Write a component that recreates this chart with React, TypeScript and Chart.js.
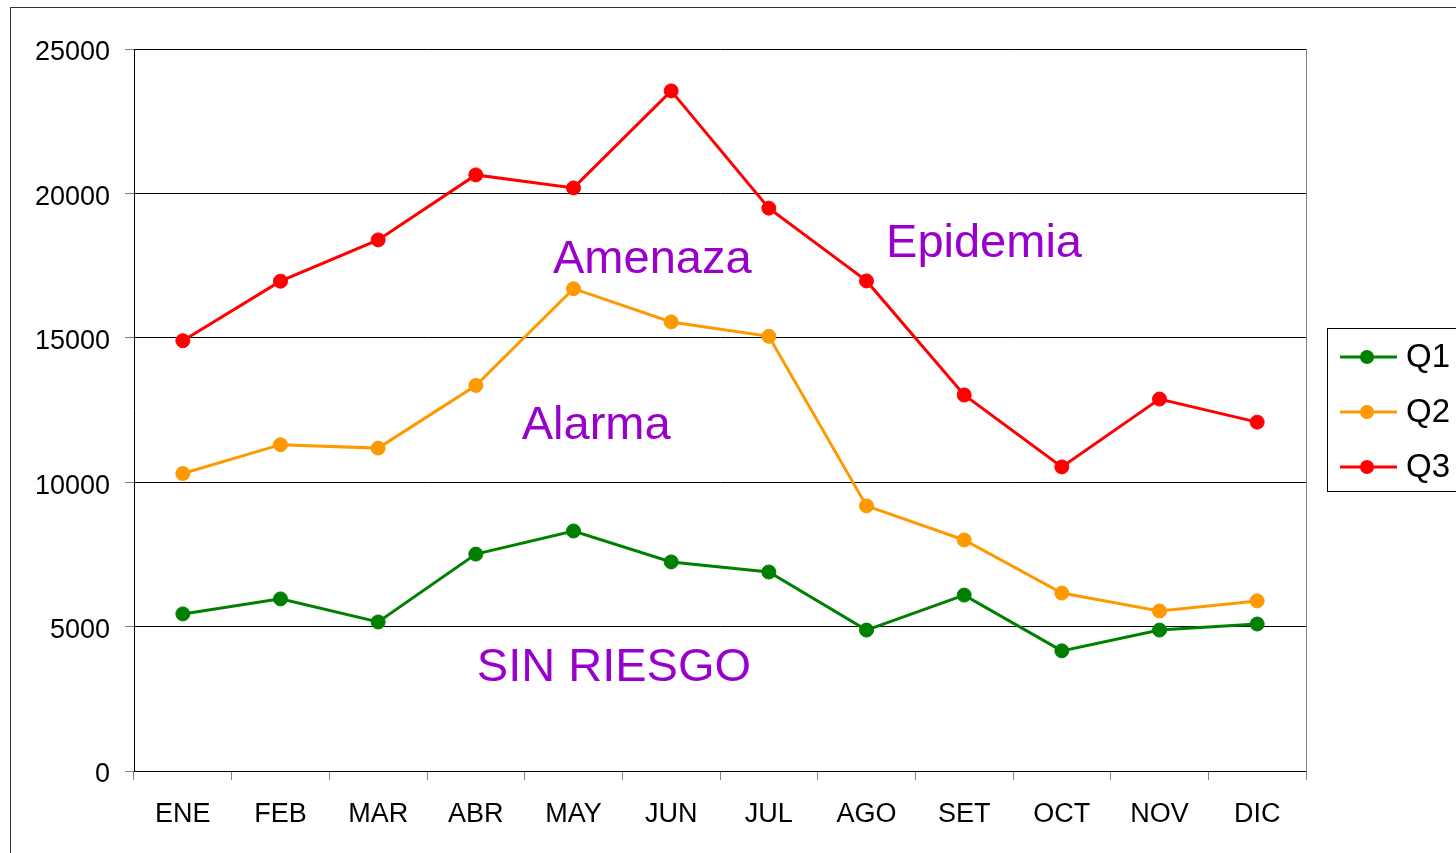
import React, { useEffect, useRef } from "react";
import { Chart, registerables } from "chart.js";

Chart.register(...registerables);

const months = ["ENE", "FEB", "MAR", "ABR", "MAY", "JUN", "JUL", "AGO", "SET", "OCT", "NOV", "DIC"];
const q1 = [5440, 5960, 5160, 7510, 8310, 7240, 6890, 4880, 6090, 4160, 4880, 5090];
const q2 = [10300, 11300, 11180, 13350, 16700, 15550, 15050, 9180, 8000, 6160, 5540, 5890];
const q3 = [14900, 16960, 18390, 20640, 20190, 23550, 19490, 16970, 13020, 10530, 12880, 12080];
const seriesNames = ["Q1", "Q2", "Q3"];
const seriesColors = ["#008000", "#FF9900", "#FF0000"];
const yTicks = [0, 5000, 10000, 15000, 20000, 25000];

// zone labels: [text, category position (index), value at baseline]
const zoneText = ["Amenaza", "Epidemia", "Alarma", "SIN RIESGO"];
const zoneX = [3.79, 7.2, 3.47, 3.01];
const zoneY = [17240, 17800, 11500, 3110];

const FONT = "'Liberation Sans', Arial, sans-serif";

export default function App() {
  const ref = useRef<HTMLCanvasElement | null>(null);

  useEffect(() => {
    if (!ref.current) return;
    const framePlugin = {
      id: "frame",
      beforeDraw(chart: any) {
        const c = chart.ctx;
        c.save();
        c.fillStyle = "#ffffff";
        c.fillRect(0, 0, chart.width, chart.height);
        c.strokeStyle = "#333333";
        c.lineWidth = 1;
        c.strokeRect(10.5, 7.5, chart.width + 20, chart.height + 20);
        c.restore();
      },
      beforeDatasetsDraw(chart: any) {
        const c = chart.ctx;
        const a = chart.chartArea;
        c.save();
        c.strokeStyle = "#808080";
        c.lineWidth = 1;
        c.beginPath();
        c.moveTo(Math.round(a.right) + 0.5, a.top);
        c.lineTo(Math.round(a.right) + 0.5, a.bottom + 9);
        c.stroke();
        // zone labels
        const xs = chart.scales.x;
        const ys = chart.scales.y;
        c.fillStyle = "#9900CC";
        c.font = "47px " + FONT;
        c.textAlign = "left";
        c.textBaseline = "alphabetic";
        zoneText.forEach((t, i) => {
          const px = xs.getPixelForValue(zoneX[i]);
          const py = ys.getPixelForValue(zoneY[i]);
          c.fillText(t, px, py);
        });
        c.restore();
      },
      afterDraw(chart: any) {
        const c = chart.ctx;
        c.save();
        c.fillStyle = "#ffffff";
        c.fillRect(1327, 328, 200, 163);
        c.strokeStyle = "#000000";
        c.lineWidth = 1;
        c.strokeRect(1327.5, 328.5, 200, 163);
        chart.data.datasets.forEach((ds: any, i: number) => {
          const y = 357 + i * 55;
          c.strokeStyle = ds.borderColor;
          c.lineWidth = 3;
          c.beginPath();
          c.moveTo(1340, y);
          c.lineTo(1397, y);
          c.stroke();
          c.fillStyle = ds.borderColor;
          c.beginPath();
          c.arc(1367, y, 7, 0, Math.PI * 2);
          c.fill();
          c.fillStyle = "#000000";
          c.font = "33px " + FONT;
          c.textAlign = "left";
          c.textBaseline = "middle";
          c.fillText(ds.label, 1406, y + 1);
        });
        c.restore();
      },
    };

    const series = [q1, q2, q3];
    const chart = new Chart(ref.current, {
      type: "line",
      data: {
        labels: months,
        datasets: series.map((d, i) => ({
          label: seriesNames[i],
          data: d,
          borderColor: seriesColors[i],
          backgroundColor: seriesColors[i],
          pointBackgroundColor: seriesColors[i],
          pointBorderColor: seriesColors[i],
          borderWidth: 3,
          pointRadius: 7,
          pointBorderWidth: 1,
          tension: 0,
          fill: false,
        })),
      },
      options: {
        responsive: false,
        animation: false,
        devicePixelRatio: 1,
        layout: { padding: { left: 0, top: 49, right: 150, bottom: 0 } },
        plugins: {
          legend: { display: false },
          tooltip: { enabled: false },
          title: { display: false },
        },
        scales: {
          x: {
            type: "category",
            offset: true,
            grid: {
              offset: true,
              drawOnChartArea: false,
              drawTicks: true,
              tickLength: 9,
              tickColor: "#808080",
              lineWidth: 1,
            },
            border: { display: true, color: "#000000", width: 1 },
            ticks: {
              color: "#000000",
              font: { family: FONT, size: 27 },
              padding: 18,
              maxRotation: 0,
              autoSkip: false,
            },
            afterFit: (s: any) => {
              s.height = 82;
            },
          },
          y: {
            min: 0,
            max: 25000,
            afterBuildTicks: (s: any) => {
              s.ticks = yTicks.map((v) => ({ value: v }));
            },
            grid: {
              color: "#000000",
              lineWidth: 1,
              drawTicks: true,
              tickLength: 9,
              tickColor: "#808080",
            },
            border: { display: true, color: "#000000", width: 1 },
            ticks: {
              color: "#000000",
              font: { family: FONT, size: 27 },
              padding: 15,
              labelOffset: 4,
              callback: (v: any) => String(v),
            },
            afterFit: (s: any) => {
              s.width = 134;
            },
          },
        },
      },
      plugins: [framePlugin],
    });
    return () => chart.destroy();
  }, []);

  return (
    <div style={{ position: "absolute", left: 0, top: 0, width: 1456, height: 853, overflow: "hidden" }}>
      <canvas ref={ref} width={1456} height={853} style={{ display: "block" }} />
    </div>
  );
}
